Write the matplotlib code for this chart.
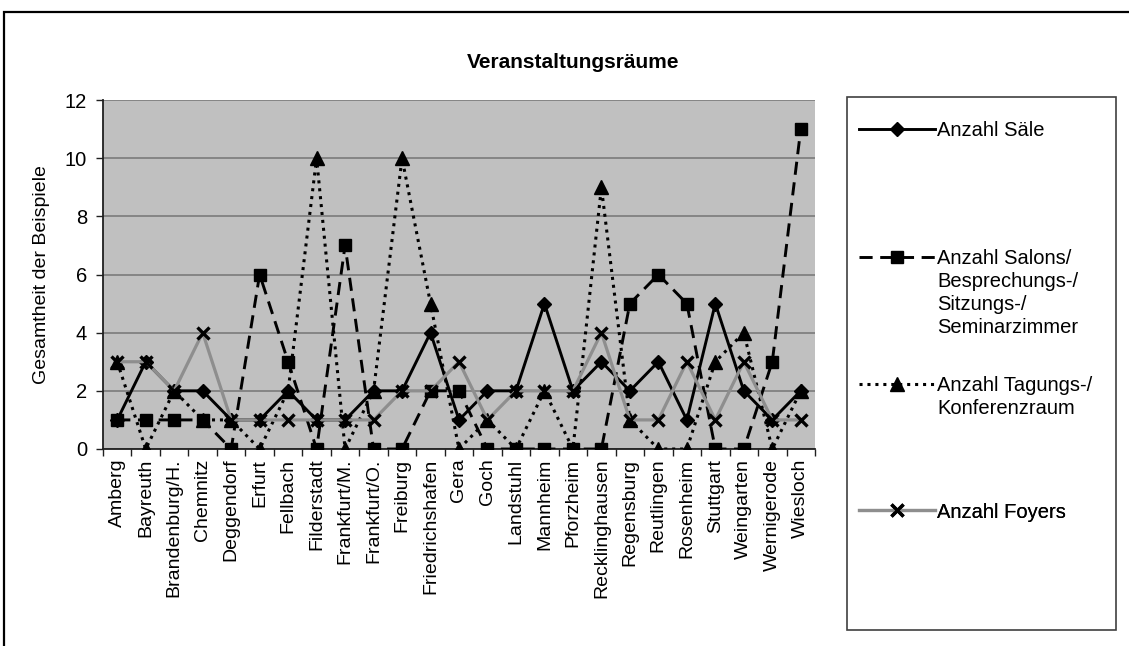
import matplotlib
matplotlib.use("Agg")
import matplotlib.pyplot as plt
from matplotlib.lines import Line2D
from matplotlib.patches import Rectangle

plt.rcParams['font.family'] = ['Liberation Sans', 'DejaVu Sans']

categories = ["Amberg", "Bayreuth", "Brandenburg/H.", "Chemnitz", "Deggendorf", "Erfurt",
              "Fellbach", "Filderstadt", "Frankfurt/M.", "Frankfurt/O.", "Freiburg",
              "Friedrichshafen", "Gera", "Goch", "Landstuhl", "Mannheim", "Pforzheim",
              "Recklinghausen", "Regensburg", "Reutlingen", "Rosenheim", "Stuttgart",
              "Weingarten", "Wernigerode", "Wiesloch"]

saele = [1, 3, 2, 2, 1, 1, 2, 1, 1, 2, 2, 4, 1, 2, 2, 5, 2, 3, 2, 3, 1, 5, 2, 1, 2]
salons = [1, 1, 1, 1, 0, 6, 3, 0, 7, 0, 0, 2, 2, 0, 0, 0, 0, 0, 5, 6, 5, 0, 0, 3, 11]
tagungs = [3, 0, 2, 1, 1, 0, 2, 10, 0, 2, 10, 5, 0, 1, 0, 2, 0, 9, 1, 0, 0, 3, 4, 0, 2]
foyers = [3, 3, 2, 4, 1, 1, 1, 1, 1, 1, 2, 2, 3, 1, 2, 2, 2, 4, 1, 1, 3, 1, 3, 1, 1]

series_labels = ["Anzahl Säle",
                 ["Anzahl Salons/", "Besprechungs-/", "Sitzungs-/", "Seminarzimmer"],
                 ["Anzahl Tagungs-/", "Konferenzraum"],
                 "Anzahl Foyers"]
title = "Veranstaltungsräume"
ylabel = "Gesamtheit der Beispiele"
yticks = [0, 2, 4, 6, 8, 10, 12]

W, H = 1129, 646
fig = plt.figure(figsize=(W / 100, H / 100), dpi=100)
fig.patch.set_facecolor("white")

# outer chart-area frame (only left and top edges fall inside the picture)
fig.patches.append(Rectangle((4 / W, -0.2), 1.2, 1.2 - 12 / H,
                             transform=fig.transFigure, fill=False,
                             edgecolor="black", linewidth=1.6))

ax = fig.add_axes([103 / W, 1 - 449 / H, (815 - 103) / W, (449 - 100) / H])
ax.set_facecolor("#c0c0c0")
x = list(range(len(categories)))

common = dict(color="black", markerfacecolor="black", markeredgecolor="black")
l1, = ax.plot(x, saele, linestyle="-", linewidth=2.1, marker="D", markersize=6.8,
              **common, zorder=3)
l2, = ax.plot(x, salons, linestyle=(0, (4.5, 2.6)), linewidth=2.1, marker="s",
              markersize=9.3, dash_capstyle="butt", **common, zorder=4)
l3, = ax.plot(x, tagungs, linestyle=(0, (1.0, 1.6)), linewidth=2.2, marker="^",
              markersize=10.3, dash_capstyle="butt", **common, zorder=5)
l4, = ax.plot(x, foyers, linestyle="-", color="#8e8e8e", linewidth=2.3, marker="x",
              markersize=9.0, markeredgewidth=2.4, markeredgecolor="black", zorder=6)

ax.set_xlim(-0.5, len(categories) - 0.5)
ax.set_ylim(0, 12)
ax.set_yticks(yticks)
ax.yaxis.grid(True, color="#808080", linewidth=1.3)
ax.set_axisbelow(True)
for s in ["top", "right"]:
    ax.spines[s].set_visible(False)
for s in ["left", "bottom"]:
    ax.spines[s].set_color("#202020")
    ax.spines[s].set_linewidth(1.3)
    ax.spines[s].set_zorder(2.5)

ax.set_xticks([i - 0.5 for i in range(len(categories) + 1)])
ax.set_xticklabels([])
ax.set_xticks(x, minor=True)
ax.set_xticklabels(categories, minor=True, rotation=90, fontsize=14)
ax.tick_params(axis="x", which="major", direction="out", length=5, width=1, color="#202020")
ax.tick_params(axis="x", which="minor", length=0, pad=7)
ax.tick_params(axis="y", direction="out", length=5, width=1, color="#202020",
               labelsize=14.5, pad=6.5)

ax.set_ylabel(ylabel, fontsize=14)
ax.yaxis.set_label_coords((50 - 103) / 712, 0.5)

fig.text(573 / W, 1 - 62 / H, title, ha="center", va="center", fontsize=15,
         fontweight="bold")

# legend frame
box_top, box_bot = 97, 630
fig.patches.append(Rectangle((847 / W, 1 - box_bot / H), (1116 - 847) / W,
                             (box_bot - box_top) / H,
                             transform=fig.transFigure, fill=False,
                             edgecolor="#404040", linewidth=1.2))

blank = Line2D([], [], linestyle="none", marker=None)
leg_kw = dict(frameon=False, fontsize=14.5, handlelength=3.75, handletextpad=0.12,
              borderpad=0, borderaxespad=0, labelspacing=0.2, loc="center left",
              bbox_transform=fig.transFigure)
entries = [([l1], [series_labels[0]], 131),
           ([l2, blank, blank, blank], series_labels[1], 258 + 35),
           ([l3, blank], series_labels[2], 385 + 12),
           ([l4], [series_labels[3]], 512)]
for handles, labels, yc in entries:
    lg = ax.legend(handles, labels, bbox_to_anchor=(859 / W, 1 - yc / H), **leg_kw)
    ax.add_artist(lg)

fig.savefig("out.png", dpi=100)
